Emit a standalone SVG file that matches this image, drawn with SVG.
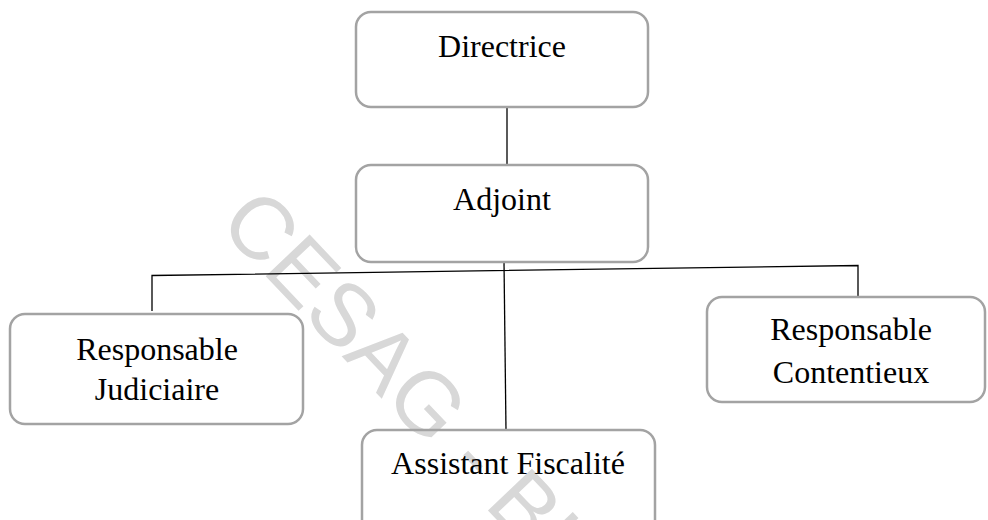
<svg xmlns="http://www.w3.org/2000/svg" width="988" height="520" viewBox="0 0 988 520">
  <style>
    .box { fill: none; stroke: #a3a3a3; stroke-width: 2.5; }
    .lbl { font-family: "Liberation Serif", "Times New Roman", serif; font-size: 32px; fill: #000; text-anchor: middle; }
    .wire { fill: none; stroke: #000; stroke-width: 1.3; }
    .mark { font-family: "Liberation Sans", Arial, sans-serif; font-size: 88px; fill: #d8d8d8; }
  </style>
  <rect width="988" height="520" fill="#fff"/>

  <!-- background watermark -->
  <text class="mark" transform="translate(217 225) rotate(46.5)">CESAG - BI</text>

  <!-- connectors -->
  <g id="connectors">
    <line class="wire" x1="507" y1="107" x2="507" y2="165"/>
    <line class="wire" x1="504" y1="262" x2="506" y2="431"/>
    <polyline class="wire" points="152,311 152,275.5 858,265.5 858,297"/>
  </g>

  <g id="directrice">
    <rect class="box" x="356" y="12" width="292" height="95" rx="15"/>
    <text class="lbl" x="502" y="57">Directrice</text>
  </g>

  <g id="adjoint">
    <rect class="box" x="356" y="165" width="292" height="97" rx="15"/>
    <text class="lbl" x="502" y="210">Adjoint</text>
  </g>

  <g id="responsable-judiciaire">
    <rect class="box" x="10" y="314" width="293" height="110" rx="15"/>
    <text class="lbl" x="157" y="360">Responsable</text>
    <text class="lbl" x="157" y="400">Judiciaire</text>
  </g>

  <g id="responsable-contentieux">
    <rect class="box" x="707" y="297" width="278" height="105" rx="15"/>
    <text class="lbl" x="851" y="340">Responsable</text>
    <text class="lbl" x="851" y="383">Contentieux</text>
  </g>

  <g id="assistant-fiscalite">
    <rect class="box" x="362" y="430" width="293" height="105" rx="15"/>
    <text class="lbl" x="508" y="474">Assistant Fiscalité</text>
  </g>
</svg>
